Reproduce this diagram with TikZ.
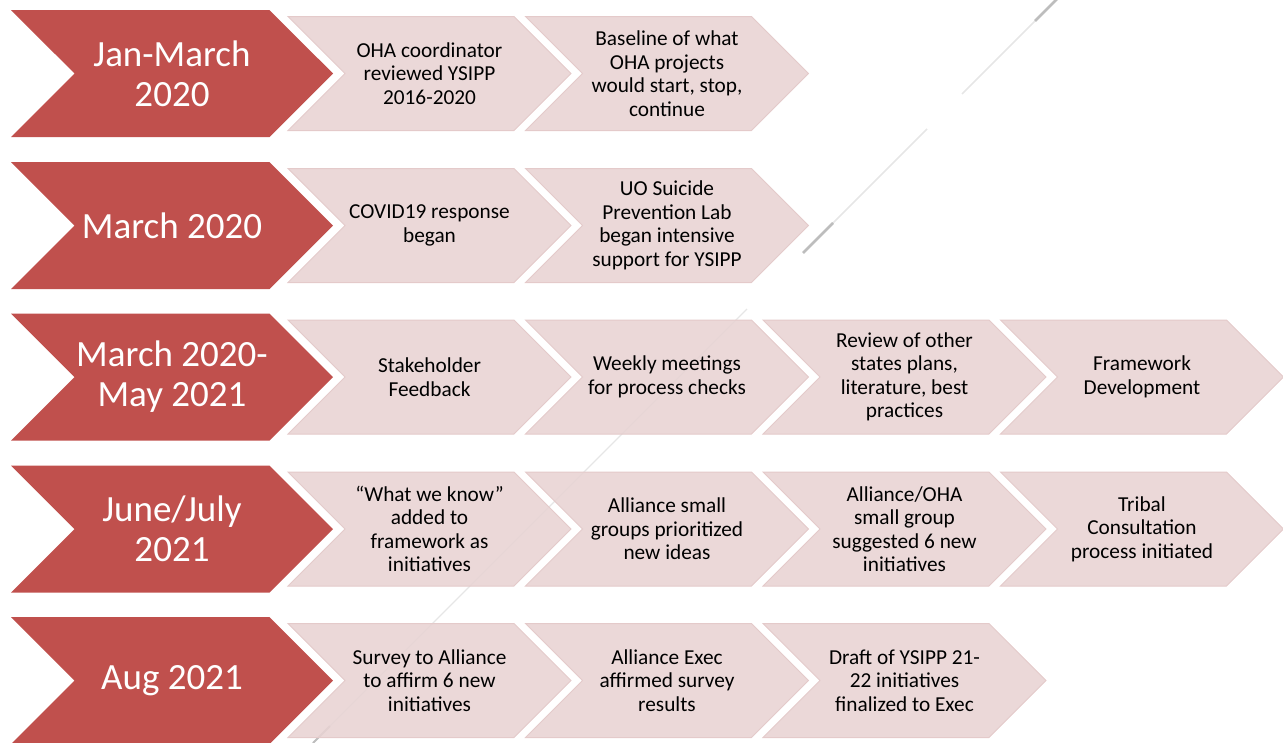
\documentclass[tikz,border=0pt]{standalone}
\usepackage{fontspec}
\setmainfont{Carlito}
\usepackage{xcolor}
\usetikzlibrary{shapes.symbols}

\definecolor{phasered}{HTML}{C0504D}
\definecolor{steppink}{HTML}{E8D3D3}
\definecolor{stepedge}{HTML}{E4CACA}
\definecolor{decoline}{HTML}{E6E6E6}
\definecolor{decodark}{HTML}{BDBDBD}

\begin{document}
\begin{tikzpicture}[
    x=1pt, y=-1pt,
    chev/.style={shape=signal, signal from=west, signal to=east, signal pointer angle=90,
        inner sep=0pt, outer sep=0pt, align=center},
    phase/.style={chev, fill=phasered, text=white, minimum width=322pt, minimum height=127pt,
        font=\fontsize{37}{40}\selectfont},
    stepbox/.style={chev, fill=steppink, fill opacity=0.88, text opacity=1, draw=stepedge, line width=1pt,
        minimum width=283pt, minimum height=114pt, font=\fontsize{21.3}{23.5}\selectfont}
]
    \useasboundingbox (0,0) rectangle (1283,742);

    % background slash
    \draw[decoline, line width=1.5pt] (1057,-1) -- (962,94);
    \draw[decoline, line width=1.5pt] (927,129) -- (803,253);
    \draw[decoline, line width=1.2pt] (747,309) -- (313,743);
    \draw[decodark, line width=2.5pt] (1057,-1) -- (1035,21);
    \draw[decodark, line width=2.5pt] (833,223) -- (803,253);
    \draw[decodark, line width=2pt] (330,726) -- (313,743);

    % phases
    \node[phase] (jan) at (172,73.5) {Jan-March\\2020};
    \node[phase] (mar) at (172,225.5) {March 2020};
    \node[phase] (marmay) at (172,377) {March 2020-\\May 2021};
    \node[phase] (junjul) at (172,529) {June/July\\2021};
    \node[phase] (aug) at (172,680.5) {Aug 2021};

    % steps, row 1
    \node[stepbox] (review) at (429.5,73.5) {OHA coordinator\\reviewed YSIPP\\2016-2020};
    \node[stepbox] (baseline) at (667,73.5) {Baseline of what\\OHA projects\\would start, stop,\\continue};

    % row 2
    \node[stepbox] (covid) at (429.5,225.5) {COVID19 response\\began};
    \node[stepbox] (uolab) at (667,225.5) {UO Suicide\\Prevention Lab\\began intensive\\support for YSIPP};

    % row 3
    \node[stepbox] (stake) at (429.5,377) {Stakeholder\\Feedback};
    \node[stepbox] (weekly) at (667,377) {Weekly meetings\\for process checks};
    \node[stepbox] (states) at (904.5,377) {Review of other\\states plans,\\literature, best\\practices};
    \node[stepbox] (framework) at (1142,377) {Framework\\Development};

    % row 4
    \node[stepbox] (know) at (429.5,529) {“What we know”\\added to\\framework as\\initiatives};
    \node[stepbox] (groups) at (667,529) {Alliance small\\groups prioritized\\new ideas};
    \node[stepbox] (ohagroup) at (904.5,529) {Alliance/OHA\\small group\\suggested 6 new\\initiatives};
    \node[stepbox] (tribal) at (1142,529) {Tribal\\Consultation\\process initiated};

    % row 5
    \node[stepbox] (survey) at (429.5,680.5) {Survey to Alliance\\to affirm 6 new\\initiatives};
    \node[stepbox] (exec) at (667,680.5) {Alliance Exec\\affirmed survey\\results};
    \node[stepbox] (draft) at (904.5,680.5) {Draft of YSIPP 21-\\22 initiatives\\finalized to Exec};
\end{tikzpicture}
\end{document}
